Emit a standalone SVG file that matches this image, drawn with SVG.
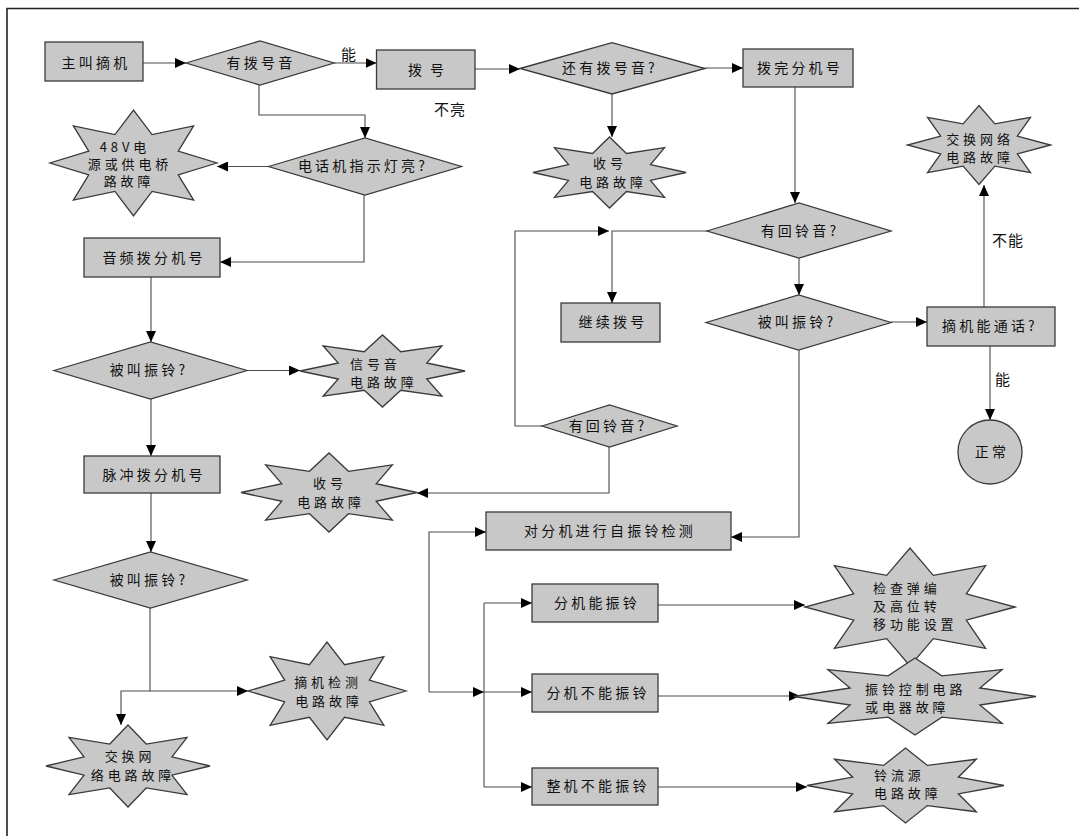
<svg xmlns="http://www.w3.org/2000/svg" xmlns:xlink="http://www.w3.org/1999/xlink" width="1079" height="836" viewBox="0 0 1079 836">
<style>
.shape{fill:#c8c8c8;stroke:#3a3a3a;stroke-width:1.3}
.conn{fill:none;stroke:#4a4a4a;stroke-width:1.1}
.arr{marker-end:url(#ah)}
text{font-family:"Noto Sans CJK SC","Noto Sans",sans-serif;font-size:14px;fill:#111;letter-spacing:3.2px}
.s{font-size:13px;letter-spacing:3.9px}
.c{text-anchor:middle}
.lbl{font-size:15px;letter-spacing:1px}
</style>
<defs>
<marker id="ah" viewBox="0 0 11 10" refX="11" refY="5" markerWidth="11" markerHeight="10" markerUnits="userSpaceOnUse" orient="auto">
<path d="M0,0 L11,5 L0,10 Z" fill="#000"/>
</marker>
<path id="star" vector-effect="non-scaling-stroke" d="M1,0 L0.536,0.222 L0.72,0.7 L0.222,0.536 L0,1 L-0.222,0.536 L-0.72,0.7 L-0.536,0.222 L-1,0 L-0.536,-0.222 L-0.72,-0.7 L-0.222,-0.536 L0,-1 L0.222,-0.536 L0.72,-0.7 L0.536,-0.222 Z"/>
</defs>
<rect width="1079" height="836" fill="#fff"/>
<path d="M7,836 V8.5 H1079" fill="none" stroke="#222" stroke-width="1.6"/>

<g id="connectors">
<path class="conn arr" d="M143,63 H186"/>
<path class="conn arr" d="M334,63 H376.5"/>
<path class="conn arr" d="M475,69 H520"/>
<path class="conn arr" d="M705,68 H743"/>
<path class="conn arr" d="M612,94 V137"/>
<path class="conn arr" d="M795,87 V203"/>
<path class="conn arr" d="M259,85 V115 H365 V138"/>
<path class="conn arr" d="M268.5,166.5 H217"/>
<path class="conn arr" d="M364,195 V262 H220"/>
<path class="conn arr" d="M151,277 V342"/>
<path class="conn arr" d="M247,370.5 H300"/>
<path class="conn arr" d="M151,399 V456"/>
<path class="conn arr" d="M151,493 V552"/>
<path class="conn arr" d="M150,608 V691 H248"/>
<path class="conn arr" d="M150,691 H121 V725"/>
<path class="conn arr" d="M707,231 H612 V303"/>
<path class="conn arr" d="M542,426 H515 V231 H609"/>
<path class="conn arr" d="M799,258 V295"/>
<path class="conn arr" d="M891,322 H927"/>
<path class="conn arr" d="M984,307 V185"/>
<path class="conn arr" d="M990,346 V420"/>
<path class="conn arr" d="M609,447 V493 H417"/>
<path class="conn arr" d="M799,350 V537 H731"/>
<path class="conn arr" d="M429,692 V532 H486"/>
<path class="conn arr" d="M429,692 H484"/>
<path class="conn" d="M484,603 V787"/>
<path class="conn arr" d="M484,603 H532"/>
<path class="conn arr" d="M484,692 H532"/>
<path class="conn arr" d="M484,787 H532"/>
<path class="conn arr" d="M658,605 H805"/>
<path class="conn arr" d="M658,696 H800"/>
<path class="conn arr" d="M658,787 H807"/>
<text class="lbl c" x="349" y="60">能</text>
<text class="lbl c" x="450" y="115">不亮</text>
<text class="lbl c" x="1008" y="246">不能</text>
<text class="lbl c" x="1003" y="385">能</text>
</g>

<g id="n_zhujiao"><rect class="shape" x="45" y="42" width="98" height="39"/><text class="c" x="96" y="68">主叫摘机</text></g>
<g id="n_youbohaoyin"><polygon class="shape" points="186,63 260,41 334,63 260,85"/><text class="c" x="261" y="68">有拨号音</text></g>
<g id="n_bohao"><rect class="shape" x="376.5" y="50" width="98.5" height="39"/><text class="c" x="430" y="75" style="letter-spacing:8px">拨号</text></g>
<g id="n_haiyoubohaoyin"><polygon class="shape" points="520,68.5 612,42.7 705,68.5 612,94"/><text class="c" x="610" y="73">还有拨号音?</text></g>
<g id="n_bowan"><rect class="shape" x="743" y="49" width="110" height="38"/><text class="c" x="800" y="73">拨完分机号</text></g>
<g id="n_dianhuaji"><polygon class="shape" points="268.5,166.5 365,138 461.5,166.5 365,195"/><text class="c" x="363" y="171">电话机指示灯亮?</text></g>
<g id="n_48v"><use xlink:href="#star" class="shape" transform="translate(133.5,163) scale(83.5,53)"/>
<text class="s c" x="125" y="152">48V电</text><text class="s c" x="130" y="169">源或供电桥</text><text class="s c" x="129" y="186">路故障</text></g>
<g id="n_shouhao1"><use xlink:href="#star" class="shape" transform="translate(609.5,172.5) scale(76.5,35.5)"/>
<text class="s c" x="610" y="168">收号</text><text class="s c" x="613" y="187">电路故障</text></g>
<g id="n_jiaohuan1"><use xlink:href="#star" class="shape" transform="translate(979,145) scale(71.5,39.5)"/>
<text class="s c" x="980" y="144">交换网络</text><text class="s c" x="980" y="162">电路故障</text></g>
<g id="n_yinpin"><rect class="shape" x="84" y="238" width="136" height="39"/><text class="c" x="154" y="263">音频拨分机号</text></g>
<g id="n_youhuilingyin1"><polygon class="shape" points="707,231 799,203 891,231 799,258"/><text class="c" x="800" y="236">有回铃音?</text></g>
<g id="n_jixu"><rect class="shape" x="561" y="303" width="99" height="39"/><text class="c" x="613" y="327">继续拨号</text></g>
<g id="n_beijiao_r"><polygon class="shape" points="706,322.5 798.5,295 891,322.5 798.5,350"/><text class="c" x="797" y="327">被叫振铃?</text></g>
<g id="n_zhaiji"><rect class="shape" x="927" y="307" width="128" height="39"/><text class="c" x="990" y="331">摘机能通话?</text></g>
<g id="n_zhengchang"><circle class="shape" cx="990" cy="452" r="32"/><text class="c" x="992" y="457">正常</text></g>
<g id="n_beijiao1"><polygon class="shape" points="54,370.5 150.5,342 247,370.5 150.5,399"/><text class="c" x="149" y="375">被叫振铃?</text></g>
<g id="n_xinhaoyin"><use xlink:href="#star" class="shape" transform="translate(382.5,371) scale(82.5,36)"/>
<text class="s" x="350" y="369">信号音</text><text class="s" x="350" y="387">电路故障</text></g>
<g id="n_youhuilingyin2"><polygon class="shape" points="542,426 609.5,405 677,426 609.5,447"/><text class="c" x="608" y="431">有回铃音?</text></g>
<g id="n_maichong"><rect class="shape" x="84" y="456" width="136" height="37"/><text class="c" x="154" y="480">脉冲拨分机号</text></g>
<g id="n_shouhao2"><use xlink:href="#star" class="shape" transform="translate(329,492.5) scale(88,39.5)"/>
<text class="s c" x="330" y="488">收号</text><text class="s c" x="331" y="507">电路故障</text></g>
<g id="n_duifenji"><rect class="shape" x="486" y="512" width="245" height="38"/><text class="c" x="610" y="536">对分机进行自振铃检测</text></g>
<g id="n_beijiao2"><polygon class="shape" points="54,580 150.5,552 247,580 150.5,608"/><text class="c" x="149" y="585">被叫振铃?</text></g>
<g id="n_zhaijijiance"><use xlink:href="#star" class="shape" transform="translate(327,691) scale(79,49)"/>
<text class="s c" x="328" y="687">摘机检测</text><text class="s c" x="329" y="706">电路故障</text></g>
<g id="n_jiaohuan2"><use xlink:href="#star" class="shape" transform="translate(128,766) scale(82,41)"/>
<text class="s c" x="130" y="761">交换网</text><text class="s c" x="133" y="780">络电路故障</text></g>
<g id="n_fenjineng"><rect class="shape" x="532" y="584" width="126" height="38"/><text class="c" x="597" y="608">分机能振铃</text></g>
<g id="n_fenjibuneng"><rect class="shape" x="532" y="674" width="126" height="38"/><text class="c" x="598" y="698">分机不能振铃</text></g>
<g id="n_zhengjibuneng"><rect class="shape" x="532" y="768" width="126" height="37"/><text class="c" x="598" y="791">整机不能振铃</text></g>
<g id="n_jiancha"><use xlink:href="#star" class="shape" transform="translate(910,607) scale(105,59)"/>
<text class="s" x="873" y="593">检查弹编</text><text class="s" x="873" y="611">及高位转</text><text class="s" x="873" y="629">移功能设置</text></g>
<g id="n_zhenlingkongzhi"><use xlink:href="#star" class="shape" transform="translate(915,696.5) scale(121,38.5)"/>
<text class="s" x="865" y="694">振铃控制电路</text><text class="s" x="865" y="712">或电器故障</text></g>
<g id="n_lingliuyuan"><use xlink:href="#star" class="shape" transform="translate(905.5,785.5) scale(98.5,37.5)"/>
<text class="s" x="874" y="780">铃流源</text><text class="s" x="874" y="798">电路故障</text></g>
</svg>
